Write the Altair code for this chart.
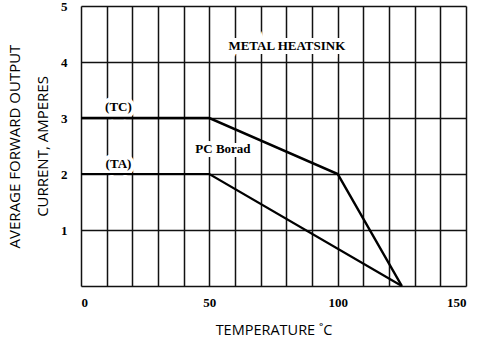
import altair as alt
import pandas as pd

# Derating curves
tc_temp = [0, 50, 100, 125]
tc_curr = [3, 3, 2, 0]
ta_temp = [0, 50, 125]
ta_curr = [2, 2, 0]

x_grid = list(range(0, 151, 10))
y_ticks = [0, 1, 2, 3, 4, 5]

ann_text = ["(TC)", "(TA)", "PC Borad", "METAL HEATSINK"]
ann_x = [14.6, 14.6, 55.3, 80.2]
ann_y = [3.19, 2.18, 2.44, 4.28]

df = pd.DataFrame(
    [{"t": t, "i": i, "s": "Tc"} for t, i in zip(tc_temp, tc_curr)]
    + [{"t": t, "i": i, "s": "Ta"} for t, i in zip(ta_temp, ta_curr)]
)
ann = pd.DataFrame({"text": ann_text, "x": ann_x, "y": ann_y})

xs = alt.Scale(domain=[0, 150], nice=False, zero=False)
ys = alt.Scale(domain=[0, 5], nice=False)

xaxis = alt.Axis(
    values=x_grid,
    labelExpr="datum.value % 50 == 0 ? datum.label : ''",
    labelOverlap=False, labelBound=False,
    grid=True, gridColor="#111", gridWidth=1.5, gridOpacity=1,
    ticks=False, domain=False,
    labelFont="Liberation Serif", labelFontWeight="bold", labelFontSize=13,
    labelColor="#000", labelPadding=10,
    title="TEMPERATURE ˚C", titleFont="Open Sans", titleFontWeight=500,
    titleFontSize=14.5, titleColor="#000", titlePadding=14,
)
yaxis = alt.Axis(
    values=y_ticks,
    labelExpr="datum.value == 0 ? '' : datum.label",
    labelOverlap=False,
    grid=True, gridColor="#111", gridWidth=1.5, gridOpacity=1,
    ticks=False, domain=False,
    labelFont="Liberation Serif", labelFontWeight="bold", labelFontSize=13,
    labelColor="#000", labelPadding=14,
    title=["AVERAGE FORWARD OUTPUT", "CURRENT, AMPERES"],
    titleFont="Open Sans", titleFontWeight=500, titleFontSize=15,
    titleColor="#000", titleLineHeight=28, titlePadding=10,
)

lines = alt.Chart(df).mark_line(color="black").encode(
    x=alt.X("t:Q", scale=xs, axis=xaxis),
    y=alt.Y("i:Q", scale=ys, axis=yaxis),
    detail="s:N",
    strokeWidth=alt.StrokeWidth("s:N", scale=alt.Scale(domain=["Tc", "Ta"], range=[2.5, 2.2]), legend=None),
)

halo = alt.Chart(ann).mark_text(
    font="Liberation Serif", fontWeight="bold", fontSize=13,
    color="white", stroke="white", strokeWidth=8, strokeJoin="miter",
).encode(
    x=alt.X("x:Q", scale=xs, axis=xaxis),
    y=alt.Y("y:Q", scale=ys, axis=yaxis),
    text="text:N",
)

labels = alt.Chart(ann).mark_text(
    font="Liberation Serif", fontWeight="bold", fontSize=13, color="black"
).encode(
    x=alt.X("x:Q", scale=xs, axis=xaxis),
    y=alt.Y("y:Q", scale=ys, axis=yaxis),
    text="text:N",
)

chart = (halo + lines + labels).properties(
    width=385, height=280,
    autosize=alt.AutoSizeParams(type="none"),
    padding={"left": 81, "top": 6, "right": 11, "bottom": 55},
).configure_view(stroke="black", strokeWidth=2).configure(background="white")

chart.save("out.html", embed_options={"renderer": "svg", "actions": False})
